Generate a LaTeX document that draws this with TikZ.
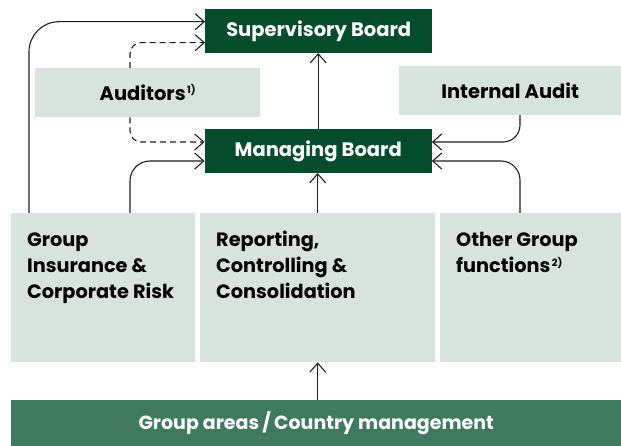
\documentclass[tikz,border=0pt]{standalone}
\usepackage{fontspec}
\setmainfont{Poppins}
\usetikzlibrary{arrows.meta,calc}
\definecolor{darkgreen}{HTML}{054C2D}
\definecolor{lightbox}{HTML}{D9E3DE}
\definecolor{midgreen}{HTML}{3F7A5F}
\definecolor{linec}{HTML}{1E1E1E}
\newcommand{\supmark}[1]{\hspace{1.5pt}{\fontsize{10}{10}\selectfont\raisebox{6.5pt}{#1}}}
\newcommand{\firstline}{\rule{0pt}{18pt}}
\begin{document}
\begin{tikzpicture}[x=1pt,y=-1pt,
  boxbase/.style={draw=none, inner sep=0pt, anchor=north west, align=center},
  board/.style={boxbase, fill=darkgreen, text=white, font=\fontsize{19.5}{23}\selectfont\bfseries},
  lightnode/.style={boxbase, fill=lightbox, text=black, font=\fontsize{19.5}{23}\selectfont\bfseries},
  bignode/.style={boxbase, fill=lightbox},
  bigtext/.style={inner sep=0pt, anchor=north west, align=left, text=black, font=\fontsize{19.3}{26}\selectfont\bfseries},
  barnode/.style={boxbase, fill=midgreen, text=white, font=\fontsize{19}{23}\selectfont\bfseries},
  conn/.style={draw=linec, line width=1.1pt, -{Straight Barb[length=9pt,width=16pt,line width=1.1pt]}},
  dashconn/.style={conn, dash pattern=on 6pt off 4pt}
]
\useasboundingbox (0,0) rectangle (621,446);
\fill[white] (0,0) rectangle (621,446);

\node[board, minimum width=227pt, minimum height=43.7pt] (sup) at (205,9) {Supervisory Board};
\node[board, minimum width=227pt, minimum height=43.7pt] (mgr) at (204.5,129) {Managing Board};
\node[lightnode, minimum width=225pt, minimum height=49pt] (aud) at (35,68) {Auditors\supmark{1)}};
\node[lightnode, minimum width=222pt, minimum height=48.5pt] (ia) at (399,66) {Internal Audit};

\node[bignode, minimum width=184pt, minimum height=149pt] (grp) at (11,213) {};
\node[bignode, minimum width=235pt, minimum height=149pt] (rep) at (200,213) {};
\node[bignode, minimum width=181pt, minimum height=149pt] (oth) at (440,213) {};
\node[bigtext] (grpt) at (27,228.7) {\firstline Group\\Insurance \&\\Corporate Risk};
\node[bigtext] (rept) at (216,228.7) {\firstline Reporting,\\Controlling \&\\Consolidation};
\node[bigtext] (otht) at (456,228.7) {\firstline Other Group\\functions\supmark{2)}};

\node[barnode, minimum width=610pt, minimum height=46pt] (bar) at (11,400) {Group areas\,/\,Country management};

\draw[conn, rounded corners=30pt] ($(grp.north west)+(18,0)$) |- ($(sup.north west)+(0,12.7)$);
\draw[conn, rounded corners=20pt] ($(grp.north west)+(119,0)$) |- ($(mgr.north west)+(0,32)$);
\draw[dashconn, rounded corners=11pt] ($(aud.north west)+(95,0)$) |- ($(sup.north west)+(0,33.7)$);
\draw[dashconn, rounded corners=11pt] ($(aud.south west)+(95,0)$) |- ($(mgr.north west)+(0,13)$);
\draw[conn] (mgr.north) -- (mgr.north |- sup.south);
\draw[conn] (rep.north) -- (rep.north |- mgr.south);
\draw[conn, rounded corners=17pt] ($(ia.south west)+(121,0)$) |- ($(mgr.north east)+(0,13)$);
\draw[conn, rounded corners=19pt] ($(oth.north west)+(80,0)$) |- ($(mgr.north east)+(0,32)$);
\draw[conn] (bar.north -| rep.south) -- (rep.south);
\end{tikzpicture}
\end{document}
